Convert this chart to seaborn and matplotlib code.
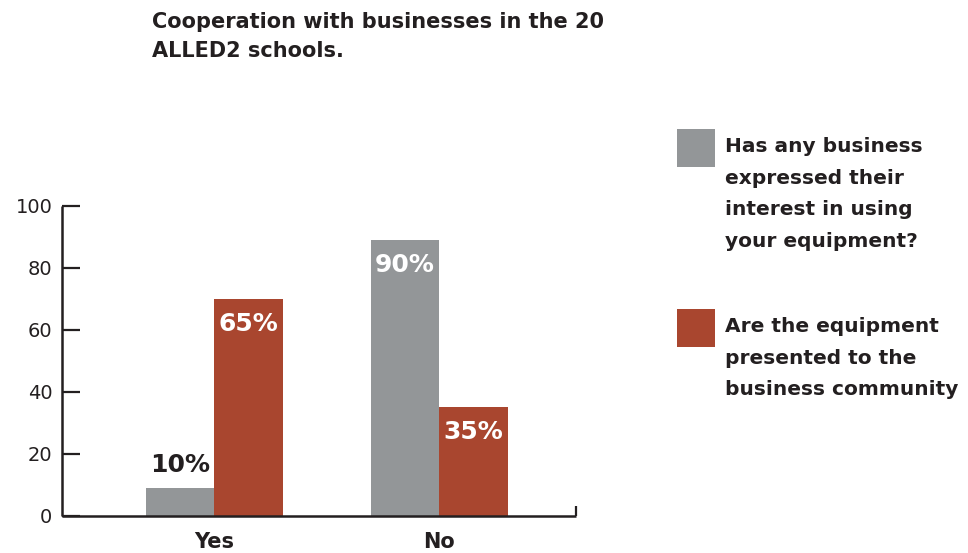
import matplotlib
matplotlib.use("Agg")
import matplotlib.pyplot as plt
from matplotlib.patches import Rectangle
import seaborn as sns
import pandas as pd

# ---- data ----
categories = ["Yes", "No"]
series_names = [
    "Has any business\nexpressed their\ninterest in using\nyour equipment?",
    "Are the equipment\npresented to the\nbusiness community",
]
gray_values = [9, 89]      # bar heights as drawn
red_values = [70, 35]
gray_labels = ["10%", "90%"]
red_labels = ["65%", "35%"]
yticks = [0, 20, 40, 60, 80, 100]
title = "Cooperation with businesses in the 20\nALLED2 schools."

GRAY = "#939698"
RED = "#A9462F"
INK = "#231f20"

df = pd.DataFrame({
    "category": categories * 2,
    "series": [series_names[0]] * 2 + [series_names[1]] * 2,
    "value": gray_values + red_values,
})

sns.set_style("white")
plt.rcParams["font.family"] = ["DejaVu Sans"]

W, H = 968, 553
fig = plt.figure(figsize=(W / 100, H / 100), dpi=100)
ax = fig.add_axes([62 / W, (H - 515.5) / H, (576 - 62) / W, (515.5 - 205.7) / H])

sns.barplot(data=df, x="category", y="value", hue="series", order=categories,
            hue_order=series_names, palette=[GRAY, RED], width=0.61, gap=0,
            saturation=1, legend=False, linewidth=0, edgecolor="none", ax=ax)

ax.set_xlim(-0.679, 1.610)
ax.set_ylim(0, 100)
ax.set_xlabel("")
ax.set_ylabel("")
sns.despine(ax=ax)
for s in ("left", "bottom"):
    ax.spines[s].set_linewidth(1.8)
    ax.spines[s].set_color(INK)
    ax.spines[s].set_capstyle("butt")

ax.set_yticks(yticks)
ax.set_yticklabels([str(t) for t in yticks])
ax.tick_params(axis="y", direction="in", length=13, width=1.6, color=INK,
               pad=7, labelsize=14, labelcolor=INK, left=True)
ax.set_xticks([0, 1])
ax.set_xticklabels(categories, fontweight="bold", fontsize=15, color=INK)
ax.tick_params(axis="x", length=0, pad=12)
ax.set_xticks([1.608], minor=True)
ax.tick_params(axis="x", which="minor", direction="in", length=7, width=1.6,
               color=INK, bottom=True)

# value labels
label_sets = [(gray_labels, ax.containers[0]), (red_labels, ax.containers[1])]
for labels, cont in label_sets:
    for lab, bar in zip(labels, cont):
        x = bar.get_x() + bar.get_width() / 2
        h = bar.get_height()
        if h < 20:
            ax.annotate(lab, (x, h), xytext=(0, 11.5), textcoords="offset points",
                        ha="center", va="baseline", fontsize=18, fontweight="heavy",
                        color=INK)
        else:
            ax.annotate(lab, (x, h), xytext=(0, -9.5), textcoords="offset points",
                        ha="center", va="top", fontsize=18, fontweight="heavy",
                        color="white")

# title
fig.text(152 / W, 1 - 12 / H, title, ha="left", va="top", fontsize=15,
         fontweight="bold", color=INK, linespacing=1.57)

# legend (manual)
colors = [GRAY, RED]
tops = [129, 309]
for name, c, t in zip(series_names, colors, tops):
    fig.add_artist(Rectangle((677 / W, 1 - (t + 38) / H), 38 / W, 38 / H,
                             transform=fig.transFigure, color=c, lw=0))
    fig.text(725 / W, 1 - (t + 8.5) / H, name, ha="left", va="top", fontsize=14.5,
             fontweight="bold", color=INK, linespacing=1.83)

fig.savefig("out.png", dpi=100)
